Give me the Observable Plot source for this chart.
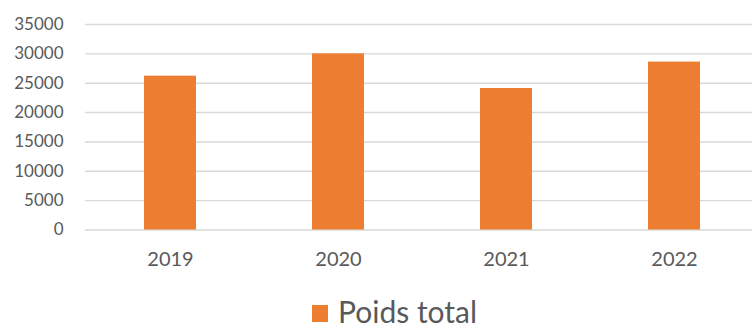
<!DOCTYPE html>
<html>
<head>
<meta charset="utf-8">
<script src="https://cdn.jsdelivr.net/npm/d3@7"></script>
<script src="https://cdn.jsdelivr.net/npm/@observablehq/plot@0.6"></script>
<style>
  html, body { margin: 0; padding: 0; background: #fff; }
  #chart { width: 752px; height: 329px; position: relative; overflow: hidden; font-family: Lato, "Open Sans", sans-serif; }
  #legend { position: absolute; left: 312px; top: 296px; display: flex; align-items: flex-start; gap: 10px; color: #595959; font-size: 30px; line-height: 30px; }
  #legend .sw { width: 16px; height: 17px; background: #ED7D31; margin-top: 9px; }
</style>
</head>
<body>
<div id="chart"><div id="legend"><span class="sw"></span><span>Poids total</span></div></div>
<script>
const years = ["2019", "2020", "2021", "2022"];
const poidsTotal = [26200, 30000, 24100, 28600];
const yTicks = [0, 5000, 10000, 15000, 20000, 25000, 30000, 35000];
const seriesName = "Poids total";

const data = years.map((y, i) => ({year: y, value: poidsTotal[i]}));

const plot = Plot.plot({
  width: 752,
  height: 290,
  marginTop: 24,
  marginBottom: 60.5,
  marginLeft: 85,
  marginRight: 0,
  style: { fontFamily: "Lato, 'Open Sans', sans-serif", color: "#595959", background: "transparent" },
  x: { type: "band", domain: years, range: [85, 760], paddingInner: 0.69, paddingOuter: 0.345, label: null },
  y: { domain: [0, 35000], ticks: yTicks, label: null },
  marks: [
    Plot.ruleY(yTicks, { stroke: "#d9d9d9", strokeWidth: 1.4 }),
    Plot.barY(data, { x: "year", y: "value", fill: "#ED7D31" }),
    Plot.axisY({ ticks: yTicks, tickSize: 0, tickPadding: 22, tickFormat: d => String(d), fontSize: 17, label: null, fill: "#595959" }),
    Plot.axisX({ tickSize: 0, tickPadding: 22, fontSize: 20, label: null, fill: "#595959" })
  ]
});
plot.style.position = "absolute";
plot.style.left = "0";
plot.style.top = "0";
document.getElementById("chart").prepend(plot);
</script>
</body>
</html>
